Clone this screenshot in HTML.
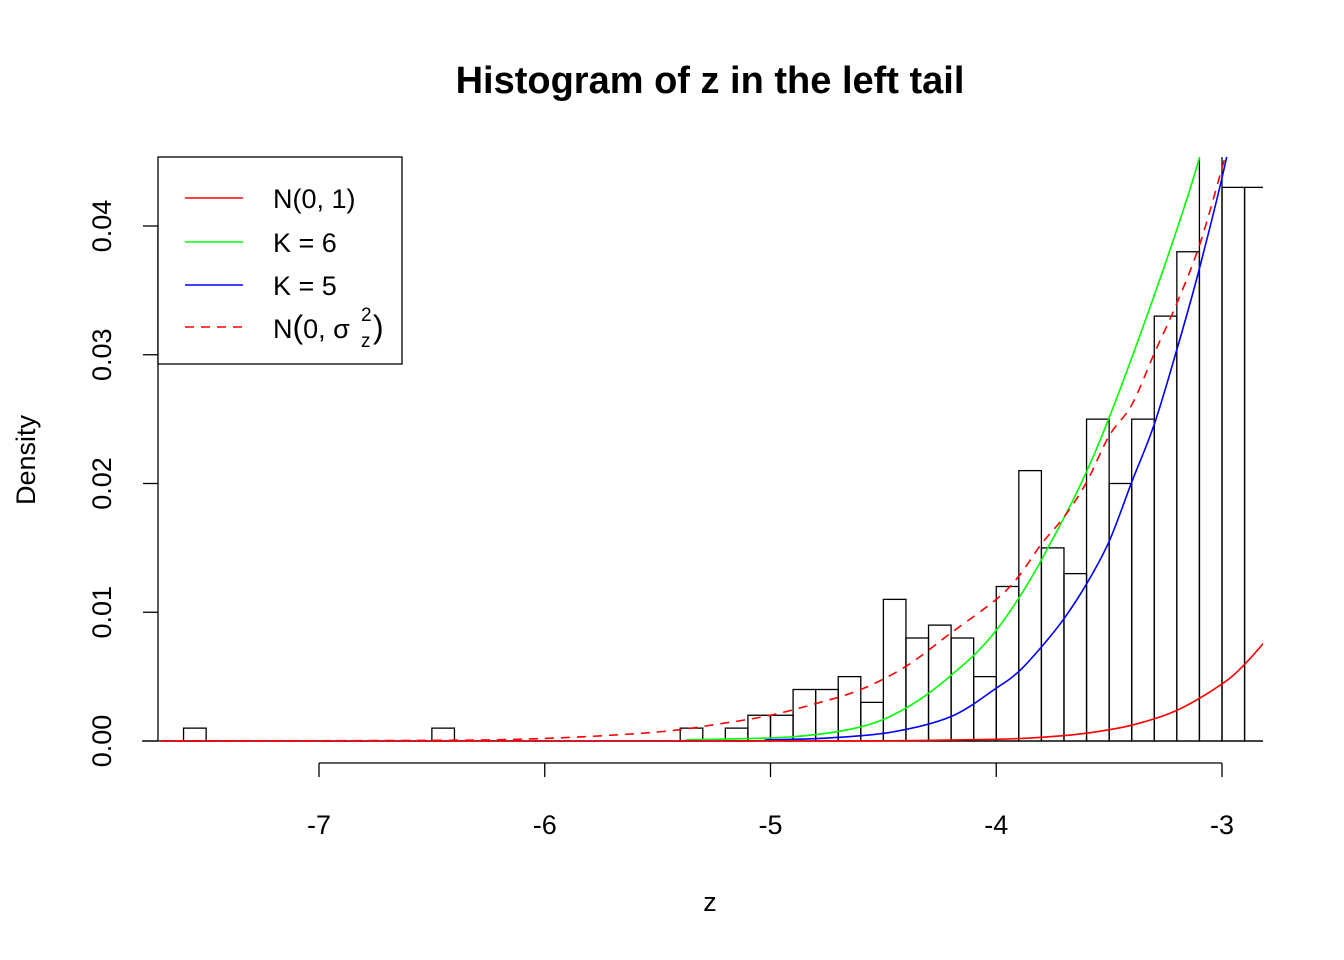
<!DOCTYPE html>
<html><head><meta charset="utf-8"><style>
body{margin:0;background:#fff}
svg{display:block;font-family:"Liberation Sans",Arial,sans-serif}
</style></head><body>
<svg id="chart" width="1344" height="960" viewBox="0 0 1344 960">
<defs><clipPath id="plotclip"><rect x="142" y="157" width="1121" height="600"/></clipPath></defs>
<text x="710" y="93" text-anchor="middle" font-size="38" font-weight="bold">Histogram of z in the left tail</text>
<text x="710" y="911" text-anchor="middle" font-size="27">z</text>
<text transform="translate(35,460) rotate(-90)" text-anchor="middle" font-size="27">Density</text>
<g id="xaxis"></g>
<g id="yaxis"></g>
<g id="bars" clip-path="url(#plotclip)"></g>
<g id="curves" clip-path="url(#plotclip)"></g>
<g>
<rect x="158" y="157" width="244" height="207" fill="#fff" stroke="#000" stroke-width="1.3"/>
<g><line x1="185" y1="198" x2="243" y2="198" stroke="#f00" stroke-width="1.5"/><text x="273" y="208" font-size="27">N(0, 1)</text></g>
<g><line x1="185" y1="242" x2="243" y2="242" stroke="#0f0" stroke-width="1.5"/><text x="273" y="252" font-size="27">K = 6</text></g>
<g><line x1="185" y1="285" x2="243" y2="285" stroke="#00f" stroke-width="1.5"/><text x="273" y="295" font-size="27">K = 5</text></g>
<g><line x1="185" y1="327" x2="243" y2="327" stroke="#f00" stroke-width="1.5" stroke-dasharray="9,7"/><text x="273" y="338" font-size="27">N<tspan font-size="32">(</tspan>0, σ</text><text x="361" y="321" font-size="19">2</text><text x="361" y="347" font-size="19">z</text><text x="373" y="338" font-size="32">)</text></g>
</g>
</svg>
<script>
const binStarts = [-7.6,-7.5,-7.4,-7.3,-7.2,-7.1,-7.0,-6.9,-6.8,-6.7,-6.6,-6.5,-6.4,-6.3,-6.2,-6.1,-6.0,-5.9,-5.8,-5.7,-5.6,-5.5,-5.4,-5.3,-5.2,-5.1,-5.0,-4.9,-4.8,-4.7,-4.6,-4.5,-4.4,-4.3,-4.2,-4.1,-4.0,-3.9,-3.8,-3.7,-3.6,-3.5,-3.4,-3.3,-3.2,-3.1,-3.0,-2.9];
const densities = [0.001,0,0,0,0,0,0,0,0,0,0,0.001,0,0,0,0,0,0,0,0,0,0,0.001,0,0.001,0.002,0.002,0.004,0.004,0.005,0.003,0.011,0.008,0.009,0.008,0.005,0.012,0.021,0.015,0.013,0.025,0.020,0.025,0.033,0.038,0.052,0.043,0.043];
const binWidth = 0.1;
const xTicks = [-7,-6,-5,-4,-3];
const yTicks = [0,0.01,0.02,0.03,0.04];
const yTickLabels = ["0.00","0.01","0.02","0.03","0.04"];
const normX = [-7.7,-5.0,-4.5,-4.0,-3.8,-3.6,-3.4,-3.2,-3.0,-2.9,-2.8];
const normY = [0,0.0000015,0.000016,0.000134,0.00029,0.00061,0.00123,0.00238,0.00443,0.00595,0.00792];
const k6X = [-7.7,-5.6,-5.34,-4.9,-4.6,-4.4,-4.2,-4.0,-3.78,-3.5,-3.1,-3.0];
const k6Y = [0,0,0.0001,0.00033,0.0011,0.00256,0.0051,0.0086,0.0147,0.0251,0.0453,0.056];
const k5X = [-7.7,-5.3,-5.0,-4.75,-4.46,-4.2,-4.0,-3.9,-3.8,-3.7,-3.6,-3.5,-3.4,-3.3,-3.2,-3.1,-2.98,-2.9];
const k5Y = [0,0,0.0001,0.00023,0.0007,0.0019,0.0041,0.0054,0.0073,0.0095,0.0122,0.0155,0.0201,0.0246,0.0304,0.0367,0.0453,0.053];
const nsX = [-7.7,-6.5,-6.0,-5.5,-5.2,-5.0,-4.8,-4.6,-4.4,-4.2,-4.0,-3.9,-3.8,-3.7,-3.6,-3.5,-3.4,-3.3,-3.2,-3.1,-3.0,-2.9];
const nsY = [0,0.00005,0.0002,0.0007,0.0014,0.0020,0.0029,0.0040,0.0058,0.0084,0.0110,0.0128,0.0153,0.0174,0.0201,0.0237,0.0261,0.0301,0.034,0.0385,0.0445,0.051];

const NS='http://www.w3.org/2000/svg';
const sx = v => 319 + (v + 7) * 225.75;
const sy = v => 741 - v * 12875;
function mk(tag, attrs, parent){const e=document.createElementNS(NS,tag);for(const k in attrs)e.setAttribute(k,attrs[k]);parent.appendChild(e);return e;}

const bars=document.getElementById('bars');
const base=mk('line',{x1:142,y1:741,x2:1263,y2:741,stroke:'#000','stroke-width':1.3},bars);


binStarts.forEach((b,i)=>{
  const x0=sx(b), x1=sx(b+binWidth), y=sy(densities[i]);
  const r=mk('rect',{x:x0,y:y,width:x1-x0,height:741-y,fill:'none',stroke:'#000','stroke-width':1.3},bars);
  
  
});
const cur=document.getElementById('curves');
function smoothPath(pts){
  let d='M'+pts[0][0]+','+pts[0][1];
  for(let i=0;i<pts.length-1;i++){
    const p0=pts[i-1]||pts[i], p1=pts[i], p2=pts[i+1], p3=pts[i+2]||p2;
    const c1x=p1[0]+(p2[0]-p0[0])/6, c1y=p1[1]+(p2[1]-p0[1])/6;
    const c2x=p2[0]-(p3[0]-p1[0])/6, c2y=p2[1]-(p3[1]-p1[1])/6;
    d+=' C'+c1x+','+Math.min(741,c1y)+' '+c2x+','+Math.min(741,c2y)+' '+p2[0]+','+p2[1];
  }
  return d;
}
function curve(xs,ys,color,dash,name){
  const pts=xs.map((x,i)=>[sx(x),sy(ys[i])]);
  const p=mk('path',{d:smoothPath(pts),fill:'none',stroke:color,'stroke-width':1.6},cur);
  if(dash)p.setAttribute('stroke-dasharray',dash);
  
  
}
curve(k6X,k6Y,'#0f0',null,'k6-curve');
curve(k5X,k5Y,'#00f',null,'k5-curve');
curve(nsX,nsY,'#f00','9,7','normal-sigma-curve');
curve(normX,normY,'#f00',null,'normal-curve');

const xa=document.getElementById('xaxis');
mk('line',{x1:sx(xTicks[0]),y1:763,x2:sx(xTicks[xTicks.length-1]),y2:763,stroke:'#000','stroke-width':1.3},xa);
xTicks.forEach(t=>{
  mk('line',{x1:sx(t),y1:763,x2:sx(t),y2:777,stroke:'#000','stroke-width':1.3},xa);
  const tx=mk('text',{x:sx(t),y:834,'text-anchor':'middle','font-size':27},xa);
  tx.textContent=String(t);
  
  
});
const ya=document.getElementById('yaxis');
mk('line',{x1:158,y1:sy(yTicks[0]),x2:158,y2:sy(yTicks[yTicks.length-1]),stroke:'#000','stroke-width':1.3},ya);
yTicks.forEach((t,i)=>{
  mk('line',{x1:143,y1:sy(t),x2:158,y2:sy(t),stroke:'#000','stroke-width':1.3},ya);
  const tx=mk('text',{transform:'translate(111,'+sy(t)+') rotate(-90)','text-anchor':'middle','font-size':27},ya);
  tx.textContent=yTickLabels[i];
  
  
});
</script>
</body></html>
